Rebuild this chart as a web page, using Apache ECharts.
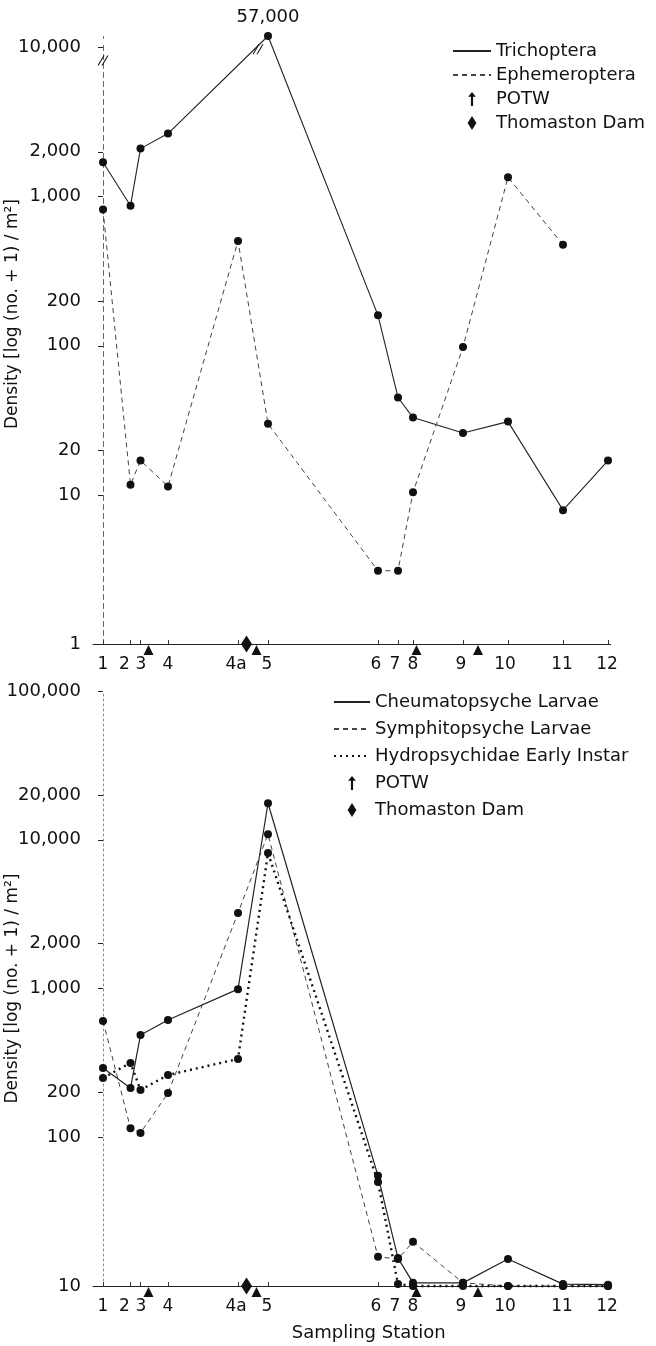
<!DOCTYPE html>
<html>
<head>
<meta charset="utf-8">
<script src="https://cdn.jsdelivr.net/npm/echarts@6/dist/echarts.min.js"></script>
<style>
  html, body { margin: 0; background: #fff; }
  #app { width: 656px; height: 1346px; }
</style>
</head>
<body>
<div id="app"></div>
<script>
// sampling stations: position along the river, and where the tick label sits
const stations = ['1', '2', '3', '4', '4a', '5', '6', '7', '8', '9', '10', '11', '12'];
const stationPos = [0, 5.5, 7.5, 13, 27, 33, 55, 59, 62, 72, 81, 92, 101];
const labelPos = [0, 4.3, 7.6, 13, 26.6, 32.8, 54.6, 58.4, 62, 71.6, 80.4, 91.8, 100.8];

// upper panel
const trichoptera = [1700, 870, 2100, 2650, null, 57000, 160, 45, 33, 26, 31, 7.9, 17];
const ephemeroptera = [820, 11.7, 17, 11.4, 505, 30, 3.1, 3.1, 10.4, 98, 1350, 475, null];
const topTicks = [1, 10, 20, 100, 200, 1000, 2000, 10000];

// lower panel
const cheumatopsyche = [292, 214, 487, 614, 990, 17600, 55, 15.4, 10.5, 10.5, 15.2, 10.3, 10.2];
const symphitopsyche = [605, 115, 107, 198, 3220, 10900, 15.7, 15.2, 19.8, 10.5, 10, 10, 10];
const hydropsychidae = [250, 316, 208, 262, 336, 8150, 50, 10.3, 10, 10, 10, 10, 10];
const bottomTicks = [10, 100, 200, 1000, 2000, 10000, 20000, 100000];

// POTW outfalls and Thomaston Dam
const potwPos = [9.1, 30.7, 62.7, 75];
const damPos = [28.7];

const app = document.getElementById('app');
const chart = echarts.init(app);

const font = 'DejaVu Sans';
const ink = '#111';
const pairs = (vals) => vals.map((v, i) => [stationPos[i], v]);
const fmt = (v) => Number(v).toLocaleString('en-US');
const arrow = 'path://M5,0 L10,6 L6.4,6 L6.4,18 L3.6,18 L3.6,6 L0,6 Z';
const diamond = 'path://M5,0 L10,8 L5,16 L0,8 Z';
const breakMark = 'path://M0,10 L6,0 L7.2,0 L1.2,10 Z M4,10 L10,0 L11.2,0 L5.2,10 Z';

function xAxisFor(gridIndex, extra) {
  return Object.assign({
    type: 'value',
    gridIndex,
    min: -2,
    max: 101.5,
    axisLine: { onZero: false, lineStyle: { color: '#222', width: 1.2 } },
    axisTick: { show: true, inside: true, length: 4, customValues: stationPos, lineStyle: { color: '#333' } },
    axisLabel: {
      customValues: labelPos,
      formatter(v) {
        const i = labelPos.indexOf(v);
        return i >= 0 ? stations[i] : '';
      },
      fontFamily: font,
      fontSize: 17,
      color: ink,
      margin: 12
    },
    splitLine: { show: false }
  }, extra || {});
}

function markers(xIdx, yIdx, yVal, names) {
  return [
    {
      type: 'scatter',
      name: names[0],
      xAxisIndex: xIdx,
      yAxisIndex: yIdx,
      data: potwPos.map(p => [p, yVal]),
      symbol: 'triangle',
      symbolSize: [10, 10],
      symbolOffset: [0, 6],
      itemStyle: { color: ink, opacity: 1 },
      clip: false,
      z: 5
    },
    {
      type: 'scatter',
      name: names[1],
      xAxisIndex: xIdx,
      yAxisIndex: yIdx,
      data: damPos.map(p => [p, yVal]),
      symbol: 'diamond',
      symbolSize: [11, 17],
      itemStyle: { color: ink, opacity: 1 },
      clip: false,
      z: 5
    }
  ];
}

const lineSeries = (name, vals, xIdx, yIdx, lineStyle) => ({
  type: 'line',
  name,
  xAxisIndex: xIdx,
  yAxisIndex: yIdx,
  data: pairs(vals),
  connectNulls: true,
  symbol: 'circle',
  symbolSize: 8,
  itemStyle: { color: ink },
  lineStyle: Object.assign({ color: '#333', width: 1 }, lineStyle),
  clip: false
});

const legendText = { fontFamily: font, fontSize: 18, color: ink };
const yName = 'Density [log (no. + 1) / m²]';

chart.setOption({
  animation: false,
  backgroundColor: '#fff',
  textStyle: { fontFamily: font, color: ink },
  grid: [
    { left: 93, right: 45.5, top: 36, height: 608, containLabel: false, outerBoundsMode: 'none' },
    { left: 93, right: 45.5, top: 691, height: 595, containLabel: false, outerBoundsMode: 'none' }
  ],
  xAxis: [
    xAxisFor(0),
    xAxisFor(1, {
      name: 'Sampling Station',
      nameLocation: 'middle',
      nameGap: 38,
      nameMoveOverlap: false,
      nameTextStyle: { fontFamily: font, fontSize: 18, color: ink, padding: [0, 0, 0, 34] }
    })
  ],
  yAxis: [
    {
      type: 'log',
      gridIndex: 0,
      min: 1,
      max: 57000,
      breaks: [{ start: 10500, end: 55000, gap: '1%' }],
      breakArea: { show: false },
      axisLine: { show: true, onZero: true, lineStyle: { color: '#666', type: [5, 4] } },
      axisTick: { show: true, length: 5, customValues: topTicks, lineStyle: { color: '#222' } },
      axisLabel: { customValues: topTicks, formatter: fmt, fontFamily: font, fontSize: 18, color: ink, margin: 12 },
      splitLine: { show: false },
      name: yName,
      nameLocation: 'middle',
      nameGap: 72,
      nameMoveOverlap: false,
      nameTextStyle: { fontFamily: font, fontSize: 17, color: ink, padding: [0, 0, 0, 52] }
    },
    {
      type: 'log',
      gridIndex: 1,
      min: 10,
      max: 100000,
      axisLine: { show: true, onZero: true, lineStyle: { color: '#888', type: [2, 3] } },
      axisTick: { show: true, length: 5, customValues: bottomTicks, lineStyle: { color: '#222' } },
      axisLabel: { customValues: bottomTicks, formatter: fmt, fontFamily: font, fontSize: 18, color: ink, margin: 12 },
      splitLine: { show: false },
      name: yName,
      nameLocation: 'middle',
      nameGap: 72,
      nameMoveOverlap: false,
      nameTextStyle: { fontFamily: font, fontSize: 17, color: ink }
    }
  ],
  legend: [
    {
      orient: 'vertical',
      left: 447,
      top: 37,
      z: 20,
      itemWidth: 38,
      itemHeight: 14,
      itemGap: 6,
      textStyle: legendText,
      itemStyle: { opacity: 0 },
      data: [
        { name: 'Trichoptera' },
        { name: 'Ephemeroptera' },
        { name: 'POTW', icon: arrow, itemStyle: { opacity: 1, color: ink } },
        { name: 'Thomaston Dam', icon: diamond, itemStyle: { opacity: 1, color: ink } }
      ]
    },
    {
      orient: 'vertical',
      left: 328,
      top: 688,
      z: 20,
      itemWidth: 36,
      itemHeight: 14,
      itemGap: 9,
      textStyle: legendText,
      itemStyle: { opacity: 0 },
      data: [
        { name: 'Cheumatopsyche Larvae' },
        { name: 'Symphitopsyche Larvae' },
        { name: 'Hydropsychidae Early Instar' },
        { name: 'POTW ', icon: arrow, itemStyle: { opacity: 1, color: ink } },
        { name: 'Thomaston Dam ', icon: diamond, itemStyle: { opacity: 1, color: ink } }
      ]
    }
  ],
  series: [
    Object.assign(lineSeries('Trichoptera', trichoptera, 0, 0, { color: '#222', width: 1.1 }), {
      label: {
        show: true,
        position: 'top',
        distance: 6,
        fontFamily: font,
        fontSize: 18,
        color: ink,
        formatter: (p) => (p.value[1] > 10000 ? fmt(p.value[1]) : '')
      },
      // "//" marks where the scale is broken
      markPoint: {
        symbol: breakMark,
        symbolSize: [11, 10],
        itemStyle: { color: ink },
        label: { show: false },
        silent: true,
        data: [{ coord: [0, 8200] }, { coord: [31, 9750] }]
      }
    }),
    lineSeries('Ephemeroptera', ephemeroptera, 0, 0, { color: '#444', type: [5, 4] }),
    ...markers(0, 0, 1, ['POTW', 'Thomaston Dam']),
    lineSeries('Cheumatopsyche Larvae', cheumatopsyche, 1, 1, { color: '#222', width: 1.2 }),
    lineSeries('Symphitopsyche Larvae', symphitopsyche, 1, 1, { color: '#444', type: [5, 4] }),
    lineSeries('Hydropsychidae Early Instar', hydropsychidae, 1, 1, { color: '#111', width: 2.4, type: [2, 4] }),
    ...markers(1, 1, 10, ['POTW ', 'Thomaston Dam '])
  ]
});
</script>
</body>
</html>
